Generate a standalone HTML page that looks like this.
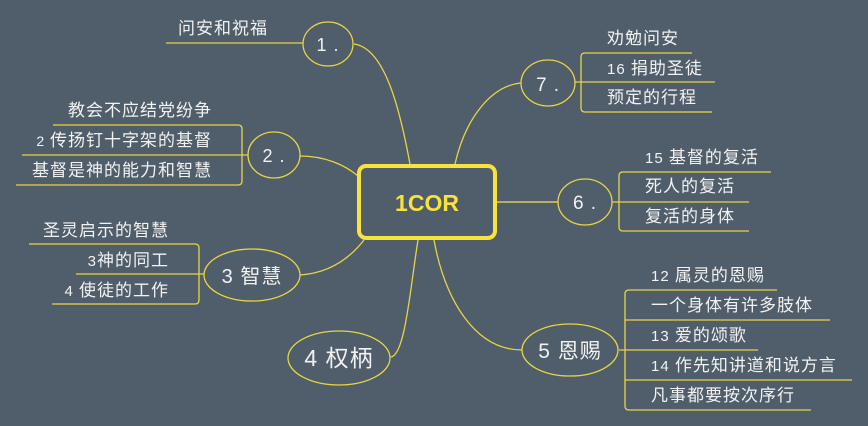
<!DOCTYPE html>
<html><head><meta charset="utf-8"><style>
html,body{margin:0;padding:0;background:#505d6a;}
svg{display:block}
text{font-family:"Liberation Sans","Noto Sans CJK SC",sans-serif;fill:#f2f2f2;font-size:17px;letter-spacing:1px}
</style></head><body>
<svg width="868" height="426" viewBox="0 0 868 426">
<g fill="none" stroke="#e8d542" stroke-width="1.3">
<path d="M354,44 C385,48 400,110 410,164"/>
<path d="M300,156 C325,156 345,165 358,176"/>
<path d="M300,275 C330,273 350,258 364,240"/>
<path d="M391,357 C405,355 410,290 418,240"/>
<path d="M434,240 C445,300 475,350 522,350"/>
<path d="M497,202 L558,202" stroke="#b8b060" stroke-width="2"/>
<path d="M521,83 C490,86 465,120 455,164"/>
<ellipse cx="328" cy="44" rx="25" ry="22"/>
<ellipse cx="274" cy="155" rx="26" ry="23"/>
<ellipse cx="252" cy="275" rx="48" ry="26"/>
<ellipse cx="339" cy="358" rx="51" ry="27"/>
<ellipse cx="570" cy="350" rx="48" ry="26"/>
<ellipse cx="585" cy="202" rx="27" ry="23"/>
<ellipse cx="548" cy="83" rx="27" ry="23"/>
<path d="M166,43 H303"/>
<path d="M53,125 H238 Q242,125 242,129 V181 Q242,185 238,185 H16"/>
<path d="M22,155 H248"/>
<path d="M29,244 H195 Q199,244 199,248 V300 Q199,304 195,304 H52"/>
<path d="M76,274 H204"/>
<path d="M692,53 H585 Q581,53 581,57 V108 Q581,112 585,112 H712"/>
<path d="M575,82 H715"/>
<path d="M771,172 H623 Q619,172 619,176 V227 Q619,231 623,231 H749"/>
<path d="M612,202 H749"/>
<path d="M777,290 H629 Q625,290 625,294 V406 Q625,410 629,410 H811"/>
<path d="M625,320 H830"/>
<path d="M619,350 H758"/>
<path d="M625,380 H852"/>
</g>
<rect x="359" y="166" width="136" height="72" rx="7" fill="#505d6a" stroke="#f8e23e" stroke-width="4"/>
<text x="427" y="211" text-anchor="middle" style="font-size:23px;font-weight:bold;fill:#f8e23e;letter-spacing:0">1COR</text>
<text x="328" y="51" text-anchor="middle" style="font-size:18px">1 .</text>
<text x="274" y="162" text-anchor="middle" style="font-size:18px">2 .</text>
<text x="252" y="283" text-anchor="middle" style="font-size:20px">3 智慧</text>
<text x="339" y="366" text-anchor="middle" style="font-size:23px">4  权柄</text>
<text x="570" y="358" text-anchor="middle" style="font-size:21px">5 恩赐</text>
<text x="585" y="209" text-anchor="middle" style="font-size:19px">6 .</text>
<text x="548" y="91" text-anchor="middle" style="font-size:19px">7 .</text>
<text x="178" y="34">问安和祝福</text>
<g text-anchor="end">
<text x="212" y="116">教会不应结党纷争</text>
<text x="212" y="146"><tspan style="font-size:14px">2 </tspan>传扬钉十字架的基督</text>
<text x="212" y="176">基督是神的能力和智慧</text>
<text x="169" y="236">圣灵启示的智慧</text>
<text x="169" y="266"><tspan style="font-size:15px">3</tspan>神的同工</text>
<text x="169" y="296"><tspan style="font-size:15px">4 </tspan>使徒的工作</text>
</g>
<text x="607" y="44">劝勉问安</text>
<text x="607" y="74"><tspan style="font-size:15px">16 </tspan>捐助圣徒</text>
<text x="607" y="103">预定的行程</text>
<text x="645" y="163"><tspan style="font-size:15px">15 </tspan>基督的复活</text>
<text x="645" y="192">死人的复活</text>
<text x="645" y="222">复活的身体</text>
<text x="651" y="281"><tspan style="font-size:15px">12 </tspan>属灵的恩赐</text>
<text x="651" y="311">一个身体有许多肢体</text>
<text x="651" y="341"><tspan style="font-size:15px">13 </tspan>爱的颂歌</text>
<text x="651" y="371"><tspan style="font-size:15px">14 </tspan>作先知讲道和说方言</text>
<text x="651" y="401">凡事都要按次序行</text>
</svg>
</body></html>
